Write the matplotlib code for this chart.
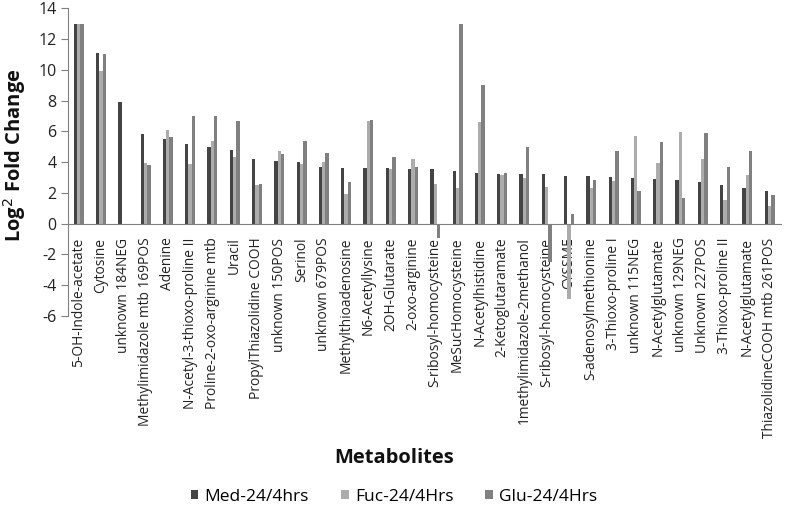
import matplotlib
matplotlib.use("Agg")
import matplotlib.pyplot as plt
import numpy as np

plt.rcParams['font.family'] = ['Open Sans', 'DejaVu Sans']
plt.rcParams['axes.unicode_minus'] = False

metabolites = [
    "5-OH-Indole-acetate", "Cytosine", "unknown 184NEG", "Methylimidazole mtb 169POS",
    "Adenine", "N-Acetyl-3-thioxo-proline II", "Proline-2-oxo-arginine mtb", "Uracil",
    "PropylThiazolidine COOH", "unknown 150POS", "Serinol", "unknown 679POS",
    "Methylthioadenosine", "N6-Acetyllysine", "2OH-Glutarate", "2-oxo-arginine",
    "S-ribosyl-homocysteine", "MeSucHomocysteine", "N-Acetylhistidine", "2-Ketoglutaramate",
    "1methylimidazole-2methanol", "S-ribosyl-homocysteine", "CYSSME", "S-adenosylmethionine",
    "3-Thioxo-proline I", "unknown 115NEG", "N-Acetylglutamate", "unknown 129NEG",
    "Unknown 227POS", "3-Thioxo-proline II", "N-Acetylglutamate", "ThiazolidineCOOH mtb 261POS",
]

med = [13.0, 11.1, 7.9, 5.8, 5.5, 5.2, 5.0, 4.8, 4.2, 4.1, 4.0, 3.7,
       3.6, 3.6, 3.6, 3.55, 3.55, 3.4, 3.3, 3.2, 3.2, 3.2, 3.1, 3.1,
       3.05, 3.0, 2.9, 2.85, 2.7, 2.5, 2.3, 2.1]
fuc = [13.0, 9.9, 0.0, 3.95, 6.1, 3.9, 5.4, 4.3, 2.5, 4.75, 3.9, 4.0,
       1.9, 6.7, 3.55, 4.2, 2.6, 2.35, 6.6, 3.15, 3.0, 2.4, -4.9, 2.35,
       2.75, 5.7, 3.95, 5.95, 4.2, 1.55, 3.15, 1.15]
glu = [13.0, 11.0, -0.05, 3.8, 5.65, 7.0, 7.0, 6.7, 2.6, 4.5, 5.4, 4.6,
       2.7, 6.75, 4.35, 3.7, -0.9, 13.0, 9.0, 3.3, 5.0, -2.5, 0.6, 2.85,
       4.7, 2.1, 5.3, 1.7, 5.9, 3.7, 4.7, 1.85]

series_names = ["Med-24/4hrs", "Fuc-24/4Hrs", "Glu-24/4Hrs"]
colors = ["#444444", "#acacac", "#808080"]

fig = plt.figure(figsize=(7.88, 5.09), dpi=100)
ax = fig.add_axes([0.0857, 0.379, 0.905, 0.605])

x = np.arange(len(metabolites))
w = 0.15
for i, (vals, name, c) in enumerate(zip([med, fuc, glu], series_names, colors)):
    ax.bar(x + (i - 1) * w, vals, width=w, color=c, label=name, zorder=2)

ax.set_xlim(-0.5, len(metabolites) - 0.5)
ax.set_ylim(-6, 14)
ax.set_yticks(np.arange(-6, 15, 2))
ax.tick_params(axis='y', direction='out', length=5, color='#808080', labelsize=11.5,
               labelcolor='#222222', pad=3)

ax.spines['top'].set_visible(False)
ax.spines['right'].set_visible(False)
ax.spines['left'].set_color('#808080')
ax.spines['bottom'].set_position(('data', 0))
ax.spines['bottom'].set_color('#808080')
ax.spines['bottom'].set_zorder(3)

ax.set_xticks(x)
ax.set_xticklabels(metabolites, rotation=90, fontsize=9.9, color='#222222')
ax.tick_params(axis='x', length=0, pad=10)

fig.text(0.019, 0.695, "Log$^2$ Fold Change", rotation=90, fontsize=14.5, fontweight='bold',
         ha='center', va='center', color='#111111')
fig.text(0.50, 0.100, "Metabolites", fontsize=14.5, fontweight='bold',
         ha='center', va='center', color='#111111')

handles, labels = ax.get_legend_handles_labels()
fig.legend(handles, labels, loc='center', bbox_to_anchor=(0.5, 0.024), ncol=3,
           frameon=False, fontsize=12.5, handlelength=0.45, handleheight=0.45,
           columnspacing=1.85, handletextpad=0.35, borderpad=0.2)

fig.savefig("out.png", dpi=100)
